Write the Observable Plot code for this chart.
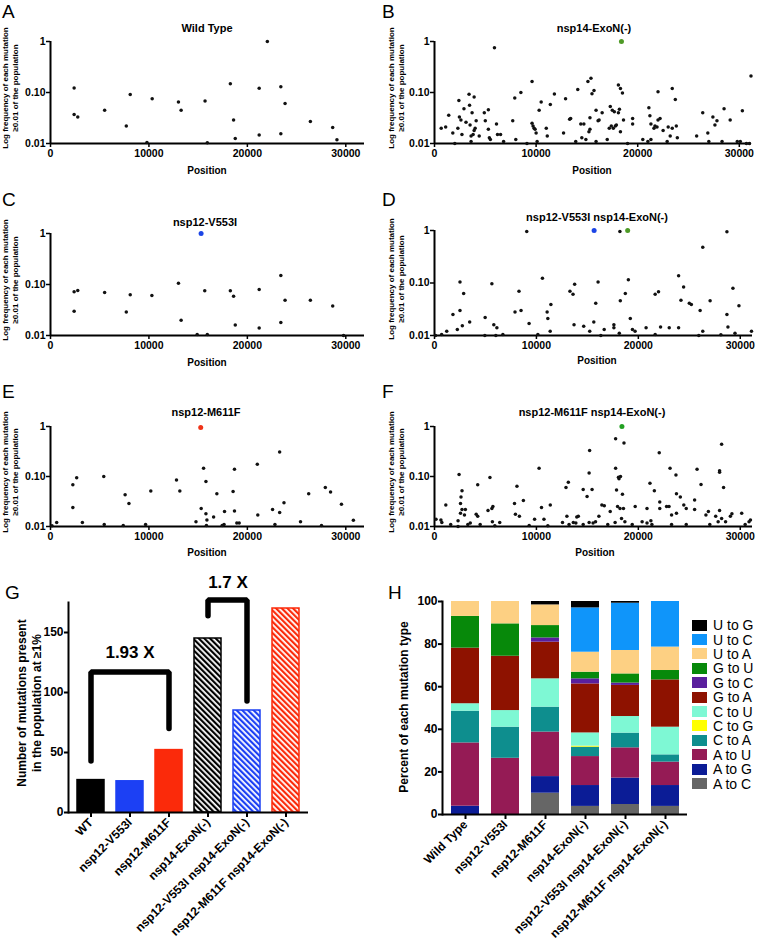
<!DOCTYPE html>
<html>
<head>
<meta charset="utf-8">
<script src="https://cdn.jsdelivr.net/npm/d3@7"></script>
<script src="https://cdn.jsdelivr.net/npm/@observablehq/plot@0.6"></script>
<style>
  html,body{margin:0;padding:0;background:#fff;}
  #fig{position:relative;width:760px;height:942px;overflow:hidden;background:#fff;font-family:"Liberation Sans",Arial,Helvetica,sans-serif;color:#000;}
  #fig > *{position:absolute;}
  .letter{font-size:19px;line-height:19px;font-weight:normal;}
  .c{transform:translate(-50%,-50%);white-space:nowrap;line-height:1;}
  .title{font-size:11px;font-weight:bold;}
  .pos{font-size:10px;font-weight:bold;}
  .ylab{transform:translate(-50%,-50%) rotate(-90deg);white-space:nowrap;font-weight:bold;line-height:1;}
  .legend{font-size:14px;}
  .legrow{display:flex;align-items:center;height:14.4px;}
  .sw{width:15px;height:11px;margin-right:6px;}
</style>
</head>
<body>
<div id="fig"></div>
<script>
// ---------------- DATA ----------------
const positionTicks = [0, 10000, 20000, 30000];
const freqTicks = [0.01, 0.1, 1];
const freqTickLabels = ["0.01", "0.10", "1"];

// [genome position, frequency]
const wildTypePoints = [[2400,0.122],[2400,0.037],[2770,0.033],[5500,0.045],[7700,0.022],[8100,0.091],[9800,0.0105],[10330,0.075],[13000,0.065],[13270,0.045],[15700,0.068],[15930,0.0103],[18270,0.149],[18600,0.029],[18770,0.0125],[21200,0.0146],[21200,0.121],[22030,1.0],[23400,0.13],[23400,0.0155],[23830,0.061],[26400,0.027],[28670,0.0206],[29100,0.0118]];

const exoNPoints = [[660,0.020],[1100,0.021],[1400,0.036],[1800,0.016],[2000,0.010],[2300,0.020],[2400,0.070],[2450,0.033],[2600,0.029],[2700,0.015],[2900,0.048],[3100,0.026],[3400,0.092],[3450,0.056],[3500,0.023],[3600,0.014],[3600,0.011],[3700,0.040],[3800,0.015],[3900,0.082],[3900,0.018],[4000,0.020],[4100,0.028],[4400,0.014],[4900,0.040],[5000,0.028],[5300,0.046],[5300,0.019],[5400,0.013],[5500,0.012],[5900,0.75],[6100,0.024],[6200,0.015],[6500,0.015],[6800,0.011],[7700,0.028],[7900,0.078],[8000,0.012],[8500,0.100],[9100,0.010],[9600,0.165],[9600,0.025],[9700,0.022],[9800,0.020],[9900,0.019],[10000,0.016],[10100,0.011],[10300,0.045],[10500,0.065],[11000,0.020],[11100,0.014],[11400,0.058],[11800,0.093],[12700,0.016],[12900,0.075],[13300,0.030],[13400,0.031],[13900,0.011],[14100,0.115],[14400,0.024],[14500,0.013],[14700,0.024],[14900,0.012],[15100,0.165],[15200,0.017],[15300,0.019],[15300,0.032],[15400,0.19],[15500,0.094],[15700,0.11],[15900,0.045],[15900,0.011],[16100,0.028],[16200,0.029],[16500,0.040],[17000,0.012],[17200,0.020],[17300,0.053],[17400,0.022],[17500,0.045],[17600,0.020],[17700,0.042],[17800,0.022],[17900,0.023],[18100,0.14],[18100,0.040],[18200,0.047],[18300,0.12],[18300,0.017],[18500,0.098],[18600,0.029],[19000,0.010],[19500,0.031],[19500,0.024],[20500,0.012],[21000,0.011],[21100,0.050],[21200,0.035],[21300,0.012],[21300,0.024],[21600,0.020],[21700,0.022],[21900,0.021],[22000,0.103],[22000,0.029],[22200,0.031],[22500,0.018],[22900,0.011],[23000,0.021],[23200,0.014],[23400,0.12],[23400,0.020],[23700,0.073],[23800,0.022],[23900,0.013],[25800,0.014],[26400,0.040],[26900,0.016],[27000,0.011],[27400,0.033],[27600,0.023],[27800,0.028],[28300,0.011],[28500,0.048],[29100,0.029],[29800,0.011],[30100,0.011],[30300,0.044],[30700,0.010],[31000,0.010],[31150,0.21]];
const exoNMarker = [[18400,1.0]];

const v553iPoints = [[2400,0.072],[2770,0.076],[2400,0.030],[5500,0.070],[7700,0.029],[8100,0.063],[10300,0.061],[13000,0.106],[13270,0.020],[15670,0.075],[18270,0.075],[18600,0.059],[18770,0.016],[21200,0.080],[21200,0.014],[23400,0.15],[23400,0.018],[23830,0.049],[26400,0.049],[28670,0.038],[14900,0.0105],[15930,0.0105],[29770,0.01]];
const v553iMarker = [[15300,1.0]];

const v553iExoNPoints = [[9050,0.96],[18190,0.96],[28690,0.95],[26320,0.48],[23950,0.138],[10590,0.123],[19020,0.115],[2500,0.105],[16050,0.105],[5630,0.097],[13750,0.095],[24440,0.084],[29280,0.079],[8290,0.070],[13290,0.070],[13590,0.061],[2860,0.063],[18720,0.063],[21650,0.061],[21980,0.068],[24180,0.047],[27040,0.046],[18230,0.046],[15820,0.041],[25000,0.041],[25200,0.039],[29870,0.037],[11420,0.039],[26060,0.030],[2500,0.030],[7900,0.028],[8490,0.030],[11050,0.028],[1810,0.025],[28690,0.025],[4970,0.022],[19210,0.021],[11120,0.021],[100,0.01],[700,0.0105],[1200,0.012],[2240,0.013],[2730,0.0153],[3450,0.018],[4940,0.01],[5820,0.016],[6120,0.014],[6020,0.01],[6710,0.0105],[9280,0.017],[10140,0.0105],[11350,0.012],[13690,0.016],[14640,0.015],[15630,0.018],[15230,0.012],[16320,0.01],[16650,0.013],[17600,0.014],[17600,0.016],[18130,0.011],[19420,0.013],[19680,0.012],[20760,0.014],[21650,0.0105],[22180,0.0145],[23030,0.014],[23950,0.014],[25930,0.01],[26320,0.012],[28100,0.0103],[28790,0.0145],[29480,0.011],[31100,0.012]];
const v553iExoNMarkerV = [[15660,1.0]];
const v553iExoNMarkerE = [[18950,1.0]];

const m611fPoints = [[150,0.0103],[630,0.012],[2270,0.068],[2270,0.024],[2660,0.094],[3240,0.012],[5410,0.10],[5460,0.011],[7390,0.0105],[7580,0.043],[7970,0.029],[9660,0.011],[10190,0.051],[12800,0.085],[13140,0.051],[14780,0.0125],[15310,0.023],[15550,0.147],[15790,0.018],[15890,0.0135],[15790,0.079],[15840,0.0105],[16570,0.0155],[16900,0.045],[17440,0.0105],[17630,0.011],[17680,0.020],[18550,0.050],[18690,0.14],[18690,0.0205],[18930,0.0117],[19170,0.0117],[21010,0.176],[21060,0.017],[22560,0.022],[22800,0.011],[23280,0.31],[23280,0.019],[23720,0.030],[25400,0.0125],[26230,0.045],[27530,0.0105],[27920,0.060],[28450,0.049],[29560,0.028],[30770,0.0133]];
const m611fMarker = [[15260,0.96]];

const m611fExoNPoints = [[150,0.014],[630,0.0135],[720,0.012],[1110,0.027],[1590,0.011],[2310,0.013],[2310,0.01],[2410,0.11],[2550,0.0185],[2550,0.029],[2600,0.039],[2700,0.052],[2700,0.022],[2940,0.017],[3030,0.022],[3270,0.011],[3510,0.0117],[4240,0.068],[4090,0.0175],[4240,0.016],[4480,0.011],[5250,0.021],[5440,0.095],[5630,0.023],[5730,0.025],[5920,0.0103],[5680,0.0125],[6400,0.012],[7850,0.029],[7940,0.0175],[8090,0.064],[8330,0.016],[8720,0.033],[9290,0.0105],[9820,0.014],[10260,0.147],[10500,0.024],[10740,0.014],[11120,0.0103],[11360,0.027],[12560,0.012],[12900,0.06],[12990,0.016],[13130,0.077],[13200,0.011],[13620,0.012],[13870,0.0117],[13960,0.0155],[14110,0.016],[14590,0.055],[14590,0.011],[14970,0.040],[15170,0.117],[15220,0.33],[15170,0.012],[15460,0.055],[15560,0.0117],[15800,0.0125],[16130,0.016],[16420,0.027],[16660,0.026],[17000,0.011],[17240,0.020],[17720,0.012],[17770,0.57],[17770,0.147],[17860,0.054],[17960,0.025],[18050,0.097],[18100,0.09],[18200,0.023],[18250,0.10],[18440,0.044],[18590,0.47],[18540,0.023],[18680,0.0125],[18350,0.0145],[19400,0.011],[19690,0.025],[20370,0.0125],[20850,0.0117],[20850,0.023],[21230,0.013],[21140,0.073],[21330,0.011],[21570,0.052],[22050,0.30],[22100,0.031],[22100,0.023],[22770,0.025],[23010,0.025],[23110,0.147],[23260,0.017],[23260,0.011],[23690,0.107],[23740,0.045],[23740,0.0185],[24120,0.039],[24460,0.027],[24700,0.023],[24700,0.011],[25520,0.022],[25520,0.034],[25760,0.14],[26150,0.069],[26630,0.017],[26870,0.020],[27010,0.011],[27590,0.016],[27830,0.0125],[27970,0.021],[27970,0.13],[27970,0.122],[28170,0.44],[28360,0.06],[28170,0.0145],[28560,0.0125],[29030,0.016],[29180,0.018],[30140,0.0185],[30480,0.011],[30860,0.0125],[31000,0.0135]];
const m611fExoNMarker = [[18390,1.0]];

// Panel G
const gGroups = ["WT","nsp12-V553I","nsp12-M611F","nsp14-ExoN(-)","nsp12-V553I nsp14-ExoN(-)","nsp12-M611F nsp14-ExoN(-)"];
const gCounts = [27, 26, 52, 145, 85, 170];
const gTicks = [0, 50, 100, 150];
const bracket193 = [["WT",43],["WT",117],["nsp12-M611F",117],["nsp12-M611F",70]];
const bracket17 = [["nsp14-ExoN(-)",164],["nsp14-ExoN(-)",177],["nsp12-V553I nsp14-ExoN(-)",177],["nsp12-V553I nsp14-ExoN(-)",93]];
const label193 = [["nsp12-V553I",133,"1.93 X"]];
const label17 = [["nsp14-ExoN(-)",192,"1.7 X"]];

// Panel H (percent, bottom to top)
const hSamples = ["Wild Type","nsp12-V553I","nsp12-M611F","nsp14-ExoN(-)","nsp12-V553I nsp14-ExoN(-)","nsp12-M611F nsp14-ExoN(-)"];
const mutationTypes = ["A to C","A to G","A to U","C to A","C to G","C to U","G to A","G to C","G to U","U to A","U to C","U to G"];
const pctWildType   = [0, 3.9, 29.7, 14.9, 0, 3.5, 26.1, 0, 14.9, 7.0, 0, 0];
const pctV553I      = [0, 0, 26.4, 14.6, 0, 7.8, 25.5, 0, 15.2, 10.5, 0, 0];
const pctM611F      = [10.0, 7.8, 20.9, 11.7, 0, 13.3, 17.2, 2.0, 5.8, 9.7, 0, 1.6];
const pctExoN       = [3.8, 9.8, 13.6, 4.4, 0.5, 6.2, 23.0, 2.4, 3.1, 9.4, 20.8, 3.0];
const pctV553IExoN  = [4.7, 12.4, 14.2, 6.9, 0, 7.8, 14.6, 1.1, 4.3, 11.0, 22.2, 0.8];
const pctM611FExoN  = [3.8, 9.8, 11.0, 3.4, 0, 13.0, 22.2, 0, 4.4, 11.0, 21.4, 0];
const hTicks = [0, 20, 40, 60, 80, 100];

// ---------------- STYLES ----------------
const FONT = '"Liberation Sans", Arial, Helvetica, sans-serif';
const typeColors = ["#666666","#0b1c96","#951b55","#0e8e8e","#ffff00","#7ef8d4","#8e1200","#5a1f9d","#07890a","#fdd083","#0f95fa","#000000"];
const gFills = ["#000000","#1c40f4","#fb2a0a","url(#hatchK)","url(#hatchB)","url(#hatchR)"];
const gStrokes = ["#000000","#1c40f4","#fb2a0a","#000000","#1c40f4","#fb2a0a"];

// ---------------- HELPERS ----------------
const fig = document.getElementById("fig");
function addEl(cls, text, left, top, extra) {
  const el = document.createElement("div");
  el.className = cls; el.textContent = text;
  el.style.left = left + "px"; el.style.top = top + "px";
  if (extra) Object.assign(el.style, extra);
  fig.appendChild(el);
  return el;
}
const xy = {x: d => d[0], y: d => d[1]};

function scatter(p) {
  const mt = 14, mb = 24;
  const chart = Plot.plot({
    width: 380, height: p.yBot - p.yTop + mt + mb,
    marginLeft: p.x0 - p.left, marginRight: p.left + 380 - p.xEnd, marginTop: mt, marginBottom: mb,
    style: {fontFamily: FONT, fontSize: "10.5px", fontWeight: "bold", color: "#000", background: "transparent", overflow: "visible"},
    x: {domain: [0, p.xMax]},
    y: {type: "log", domain: [0.01, 1]},
    marks: [
      Plot.axisX({ticks: positionTicks, tickFormat: d => String(d), tickSize: 4, tickPadding: 2, strokeWidth: 1.5, label: null}),
      Plot.axisY({ticks: freqTicks, tickFormat: d => freqTickLabels[freqTicks.indexOf(d)], tickSize: 4, tickPadding: 1, strokeWidth: 1.5, label: null}),
      Plot.ruleX([0], {strokeWidth: 2}),
      Plot.ruleY([0.01], {strokeWidth: 2}),
      Plot.dot(p.data, {...xy, r: 1.75, fill: "#111"}),
      ...p.markers.map(([pts, col]) => Plot.dot(pts, {...xy, r: 2.5, fill: col}))
    ]
  });
  chart.style.left = p.left + "px";
  chart.style.top = (p.yTop - mt) + "px";
  fig.appendChild(chart);

  addEl("c title", p.title, p.titleX, p.titleY);
  addEl("c pos", "Position", p.posX, p.posY);
  const cy = (p.yTop + p.yBot) / 2 - 4;
  addEl("ylab", "Log frequency of each mutation", p.labX, cy, {fontSize: "8px"});
  addEl("ylab", "\u22650.01 of the population", p.labX + 10, cy, {fontSize: "8px"});
}

scatter({left: 0, x0: 50, xEnd: 364, yTop: 41, yBot: 143, xMax: 31900, data: wildTypePoints, markers: [],
  title: "Wild Type", titleX: 207, titleY: 28, posX: 207, posY: 171, labX: 6});
scatter({left: 380, x0: 434, xEnd: 751, yTop: 41, yBot: 143, xMax: 31200, data: exoNPoints, markers: [[exoNMarker, "#4e9a26"]],
  title: "nsp14-ExoN(-)", titleX: 594, titleY: 28, posX: 592, posY: 171, labX: 392});
scatter({left: 0, x0: 50, xEnd: 364, yTop: 233, yBot: 335, xMax: 31900, data: v553iPoints, markers: [[v553iMarker, "#1c45e6"]],
  title: "nsp12-V553I", titleX: 205, titleY: 222, posX: 207, posY: 363, labX: 6});
scatter({left: 380, x0: 434, xEnd: 752, yTop: 230, yBot: 335, xMax: 31200, data: v553iExoNPoints, markers: [[v553iExoNMarkerV, "#1c45e6"], [v553iExoNMarkerE, "#4e9a26"]],
  title: "nsp12-V553I nsp14-ExoN(-)", titleX: 597, titleY: 217, posX: 597, posY: 361, labX: 392});
scatter({left: 0, x0: 50, xEnd: 364, yTop: 426, yBot: 526, xMax: 31900, data: m611fPoints, markers: [[m611fMarker, "#ef3318"]],
  title: "nsp12-M611F", titleX: 206, titleY: 412, posX: 207, posY: 553, labX: 6});
scatter({left: 380, x0: 434, xEnd: 752, yTop: 426, yBot: 526, xMax: 31200, data: m611fExoNPoints, markers: [[m611fExoNMarker, "#22a022"]],
  title: "nsp12-M611F nsp14-ExoN(-)", titleX: 592, titleY: 412, posX: 595, posY: 553, labX: 392});

// Letters
[["A",2,2],["B",382,2],["C",2,190],["D",382,190],["E",2,382],["F",382,382],["G",5,583],["H",388,583]]
  .forEach(([t, l, tp]) => addEl("letter", t, l, tp));

// ---------------- PANEL G ----------------
const gRows = gGroups.map((g, i) => ({group: g, count: gCounts[i]}));
const gChart = Plot.plot({
  width: 380, height: 382, marginLeft: 68, marginRight: 72, marginTop: 42, marginBottom: 130,
  style: {fontFamily: FONT, fontSize: "12px", fontWeight: "bold", color: "#000", background: "transparent", overflow: "visible"},
  x: {domain: gGroups, paddingInner: 0.3, paddingOuter: 0.2},
  y: {domain: [0, 175]},
  color: {type: "identity"},
  marks: [
    Plot.barY(gRows, {x: "group", y: "count", fill: (d, i) => gFills[i], stroke: (d, i) => gStrokes[i], strokeWidth: 1.5}),
    Plot.axisX({tickRotate: -45, tickSize: 5, tickPadding: 3, strokeWidth: 2, label: null}),
    Plot.axisY({ticks: gTicks, tickSize: 4, tickPadding: 1, strokeWidth: 2, label: null}),
    Plot.frame({anchor: "left", strokeWidth: 2}),
    Plot.ruleY([0], {strokeWidth: 2}),
    Plot.line(bracket193, {...xy, strokeWidth: 5.5, strokeLinecap: "round", strokeLinejoin: "miter"}),
    Plot.line(bracket17, {...xy, strokeWidth: 5.5, strokeLinecap: "round", strokeLinejoin: "miter"}),
    Plot.text(label193, {...xy, text: d => d[2], fontSize: 17, fontWeight: "bold"}),
    Plot.text(label17, {...xy, text: d => d[2], fontSize: 17, fontWeight: "bold", dx: 20})
  ]
});
const defs = d3.select(gChart).insert("defs", ":first-child");
[["hatchK", "#000000"], ["hatchB", "#1c40f4"], ["hatchR", "#fb2a0a"]].forEach(([id, col]) => {
  const p = defs.append("pattern").attr("id", id).attr("patternUnits", "userSpaceOnUse")
    .attr("width", 4).attr("height", 4).attr("patternTransform", "rotate(-45)");
  p.append("rect").attr("width", 4).attr("height", 4).attr("fill", "#fff");
  p.append("rect").attr("width", 2.2).attr("height", 4).attr("fill", col);
});
gChart.style.left = "0px"; gChart.style.top = "560px";
fig.appendChild(gChart);
addEl("ylab", "Number of mutations present", 22, 703, {fontSize: "12px"});
addEl("ylab", "in the population at \u22651%", 37, 703, {fontSize: "12px"});

// ---------------- PANEL H ----------------
const hPct = [pctWildType, pctV553I, pctM611F, pctExoN, pctV553IExoN, pctM611FExoN];
const hRows = hSamples.flatMap((s, i) => mutationTypes.map((t, j) => ({sample: s, type: t, value: hPct[i][j]})));
const hChart = Plot.plot({
  width: 380, height: 382, marginLeft: 62, marginRight: 73, marginTop: 41, marginBottom: 128,
  style: {fontFamily: FONT, fontSize: "12px", fontWeight: "bold", color: "#000", background: "transparent", overflow: "visible"},
  x: {domain: hSamples, paddingInner: 0.3, paddingOuter: 0.21},
  y: {domain: [0, 100]},
  color: {domain: mutationTypes, range: typeColors},
  marks: [
    Plot.barY(hRows, {x: "sample", y: "value", fill: "type"}),
    Plot.axisX({tickRotate: -45, tickSize: 5, tickPadding: 3, strokeWidth: 2, label: null}),
    Plot.axisY({ticks: hTicks, tickSize: 4, tickPadding: 1, strokeWidth: 2, label: null}),
    Plot.frame({anchor: "left", strokeWidth: 2}),
    Plot.ruleY([0], {strokeWidth: 2})
  ]
});
hChart.style.left = "380px"; hChart.style.top = "560px";
fig.appendChild(hChart);
addEl("ylab", "Percent of each mutation type", 404, 707, {fontSize: "12px"});

// Legend (top = U to G)
const legend = document.createElement("div");
legend.className = "legend";
legend.style.left = "692px"; legend.style.top = "618px";
mutationTypes.slice().reverse().forEach(t => {
  const row = document.createElement("div"); row.className = "legrow";
  const sw = document.createElement("div"); sw.className = "sw";
  sw.style.background = typeColors[mutationTypes.indexOf(t)];
  const lab = document.createElement("span"); lab.textContent = t;
  row.appendChild(sw); row.appendChild(lab); legend.appendChild(row);
});
fig.appendChild(legend);
</script>
</body>
</html>
